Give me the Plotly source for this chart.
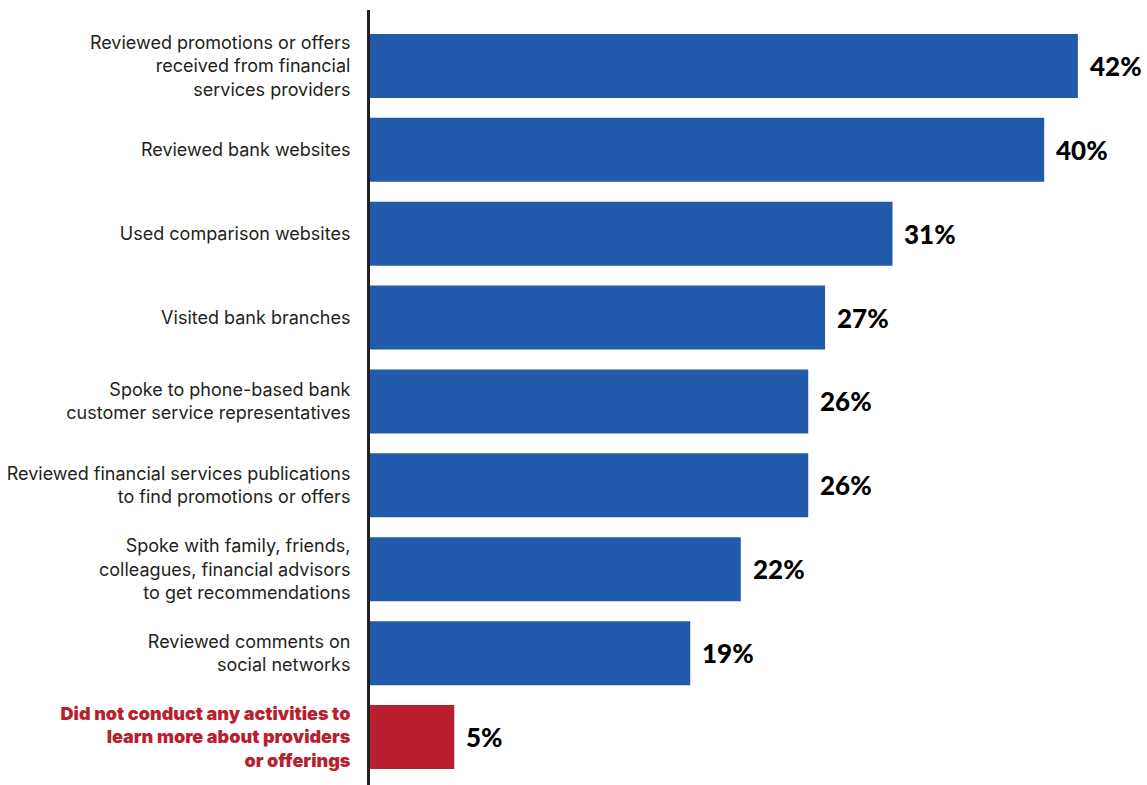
import plotly.graph_objects as go

categories = [
    "Reviewed promotions or offers<br>received from financial<br>services providers",
    "Reviewed bank websites",
    "Used comparison websites",
    "Visited bank branches",
    "Spoke to phone-based bank<br>customer service representatives",
    "Reviewed financial services publications<br>to find promotions or offers",
    "Spoke with family, friends,<br>colleagues, financial advisors<br>to get recommendations",
    "Reviewed comments on<br>social networks",
    "Did not conduct any activities to<br>learn more about providers<br>or offerings",
]
values = [42, 40, 31, 27, 26, 26, 22, 19, 5]
value_labels = ["42%", "40%", "31%", "27%", "26%", "26%", "22%", "19%", "5%"]

BLUE = "#225BAB"
RED = "#BA1F2F"
TEXT = "#231F20"

n = len(categories)
positions = list(range(n))
colors = [BLUE] * (n - 1) + [RED]

# last category is highlighted in red, heavy weight
tick_text = [
    c if i < n - 1 else f"<span style='color:{RED}; font-weight:900'>{c}</span>"
    for i, c in enumerate(categories)
]

fig = go.Figure(
    go.Bar(
        x=values,
        y=positions,
        orientation="h",
        marker=dict(color=colors, line=dict(width=0)),
        width=0.763,
        hoverinfo="skip",
    )
)

for pos, v, lbl in zip(positions, values, value_labels):
    fig.add_annotation(
        x=v, y=pos, text=lbl, showarrow=False,
        xanchor="left", yanchor="middle", xshift=10,
        font=dict(family="Lato", size=26, color="#000000", weight=900),
    )

fig.update_layout(
    width=1147, height=785,
    margin=dict(l=370, r=0, t=10, b=0),
    paper_bgcolor="white", plot_bgcolor="white",
    showlegend=False,
    xaxis=dict(range=[0, 46.1], visible=False, fixedrange=True),
    yaxis=dict(
        range=[8.572, -0.667],
        tickvals=positions, ticktext=tick_text,
        showline=True, linecolor=TEXT, linewidth=3,
        showgrid=False, zeroline=False,
        ticks="outside", ticklen=13, tickcolor="rgba(0,0,0,0)",
        tickfont=dict(family="Inter", size=18, color=TEXT),
    ),
)

fig.write_html("out.html")
